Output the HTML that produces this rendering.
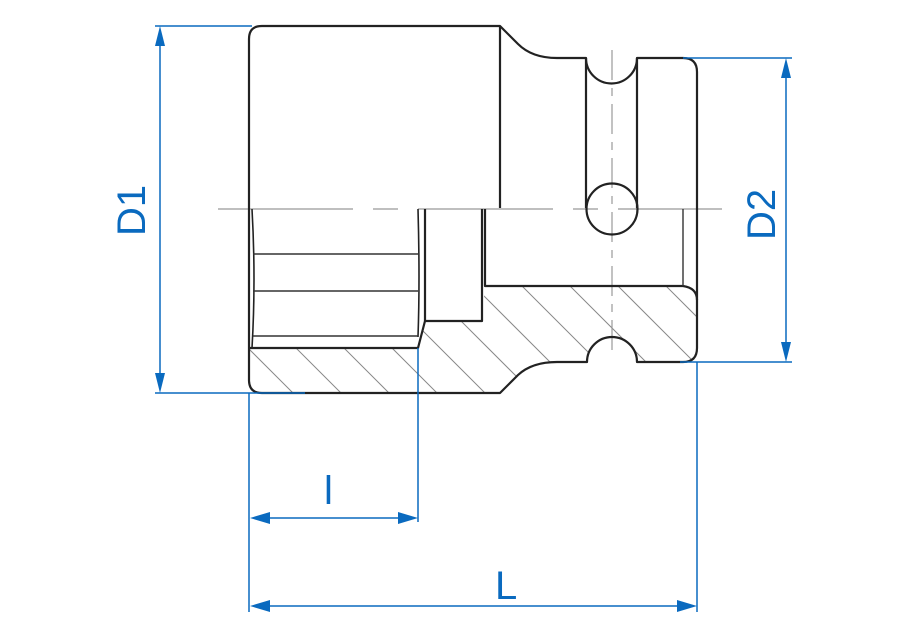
<!DOCTYPE html>
<html><head><meta charset="utf-8"><style>html,body{margin:0;padding:0;background:#fff}svg{display:block}</style></head>
<body>
<svg width="900" height="640" viewBox="0 0 900 640" xmlns="http://www.w3.org/2000/svg">
<defs>
<clipPath id="hc">
<path d="M249,348 L418,348 L425,321 L482,321 L485,286 L683,286 Q697,288 697,300 L697,350 Q697,362 685,362 L637,362 A25,25 0 0 0 587,362 L586,362 L557,362 Q532,362 518,375 L500,393 L262,393 Q249,393 249,380 Z"/>
</clipPath>
</defs>
<g clip-path="url(#hc)" stroke="#888" stroke-width="1">
<path d="M180,280 l150,150 M228,280 l150,150 M276,280 l150,150 M324,280 l150,150 M372,280 l150,150 M420,280 l150,150 M468,280 l150,150 M516,280 l150,150 M564,280 l150,150 M612,280 l150,150 M660,280 l150,150 M132,280 l150,150"/>
</g>
<g stroke="#999" stroke-width="1.2" fill="none">
<path d="M218,209 H722" stroke-dasharray="135,20,25,20"/>
<path d="M612,50 V352" stroke-dasharray="30,8,8,8"/>
</g>
<g stroke="#222" stroke-width="2.2" fill="none" stroke-linejoin="round">
<path d="M262,26 L500,26 L518,44 Q532,58 557,58 L586,58 A25,25 0 0 0 637,58 L683,58 Q697,58 697,72 L697,348 Q697,362 683,362 L637,362 A25,25 0 0 0 587,362 L557,362 Q532,362 518,375 L500,393 L262,393 Q249,393 249,380 L249,39 Q249,26 262,26 Z"/>
<path d="M500,26 V208"/>
<path d="M586,58 V208 M637,58 V208"/>
<circle cx="612" cy="209" r="25.5"/>
<path d="M249,348 H418 L425,321 H482 V209"/>
<path d="M425,321 V209"/>
<path d="M485,209 V286 H683 Q697,288 697,300"/>
<path d="M252,209 Q256,280 252,348" stroke-width="1.6"/>
<path d="M418,209 Q420,280 418,337" stroke-width="1.6"/>
</g>
<g stroke="#333" stroke-width="1.4" fill="none">
<path d="M253,254 H418 M253,291 H418 M253,336 H418"/>
<path d="M683,209 V286"/>
</g>
<g stroke="#0a6abf" stroke-width="1.5" fill="none">
<path d="M155,26 H252 M155,393 H305"/>
<path d="M160,40 V380"/>
<path d="M683,58 H792 M680,362 H792"/>
<path d="M786,72 V348"/>
<path d="M249,393 V612 M418,348 V522 M697,362 V612"/>
<path d="M265,518 H403 M265,606 H682"/>
</g>
<g fill="#0a6abf">
<path d="M160,26 l-5,20 h10 z M160,393 l-5,-20 h10 z"/>
<path d="M786,58 l-5,20 h10 z M786,362 l-5,-20 h10 z"/>
<path d="M250,518 l20,-6 v12 z M418,518 l-20,-6 v12 z"/>
<path d="M250,606 l20,-6 v12 z M697,606 l-20,-6 v12 z"/>
</g>
<g fill="#0a6abf" font-family="Liberation Sans, sans-serif" font-size="40">
<text transform="translate(145,236) rotate(-90)">D1</text>
<text transform="translate(775,240) rotate(-90)">D2</text>
<text x="324" y="504">l</text>
<text x="495" y="599">L</text>
</g>
</svg>
</body></html>
